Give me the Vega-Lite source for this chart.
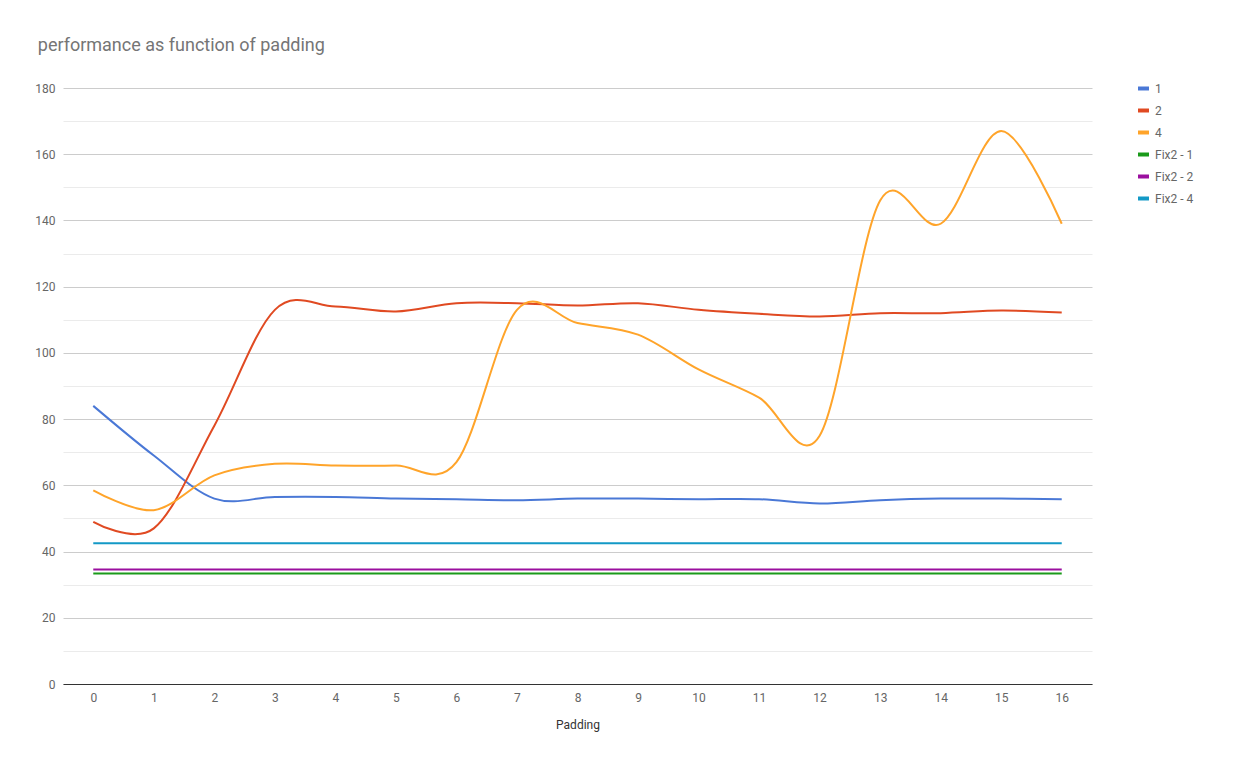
{
  "$schema": "https://vega.github.io/schema/vega-lite/v6.json",
  "autosize": "none",
  "width": 1029,
  "height": 596,
  "padding": {"left": 63, "top": 88, "right": 155, "bottom": 85},
  "background": "white",
  "title": {
    "text": "performance as function of padding",
    "anchor": "start",
    "dx": 3,
    "offset": 26,
    "fontSize": 18,
    "fontWeight": "normal",
    "font": "Roboto",
    "color": "#757575"
  },
  "data": {
    "values": [
      {"padding": 0, "series": "1", "value": 84}, {"padding": 1, "series": "1", "value": 69}, {"padding": 2, "series": "1", "value": 56}, {"padding": 3, "series": "1", "value": 56.5}, {"padding": 4, "series": "1", "value": 56.5}, {"padding": 5, "series": "1", "value": 56}, {"padding": 6, "series": "1", "value": 55.8}, {"padding": 7, "series": "1", "value": 55.5}, {"padding": 8, "series": "1", "value": 56}, {"padding": 9, "series": "1", "value": 56}, {"padding": 10, "series": "1", "value": 55.8}, {"padding": 11, "series": "1", "value": 55.8}, {"padding": 12, "series": "1", "value": 54.5}, {"padding": 13, "series": "1", "value": 55.5}, {"padding": 14, "series": "1", "value": 56}, {"padding": 15, "series": "1", "value": 56}, {"padding": 16, "series": "1", "value": 55.8},
      {"padding": 0, "series": "2", "value": 49}, {"padding": 1, "series": "2", "value": 47}, {"padding": 2, "series": "2", "value": 78}, {"padding": 3, "series": "2", "value": 113}, {"padding": 4, "series": "2", "value": 114}, {"padding": 5, "series": "2", "value": 112.5}, {"padding": 6, "series": "2", "value": 115}, {"padding": 7, "series": "2", "value": 115}, {"padding": 8, "series": "2", "value": 114.3}, {"padding": 9, "series": "2", "value": 115}, {"padding": 10, "series": "2", "value": 113}, {"padding": 11, "series": "2", "value": 111.8}, {"padding": 12, "series": "2", "value": 111}, {"padding": 13, "series": "2", "value": 112}, {"padding": 14, "series": "2", "value": 112}, {"padding": 15, "series": "2", "value": 112.8}, {"padding": 16, "series": "2", "value": 112.2},
      {"padding": 0, "series": "4", "value": 58.5}, {"padding": 1, "series": "4", "value": 52.5}, {"padding": 2, "series": "4", "value": 63}, {"padding": 3, "series": "4", "value": 66.5}, {"padding": 4, "series": "4", "value": 66}, {"padding": 5, "series": "4", "value": 66}, {"padding": 6, "series": "4", "value": 67}, {"padding": 7, "series": "4", "value": 113}, {"padding": 8, "series": "4", "value": 109}, {"padding": 9, "series": "4", "value": 105.5}, {"padding": 10, "series": "4", "value": 95}, {"padding": 11, "series": "4", "value": 86.5}, {"padding": 12, "series": "4", "value": 75}, {"padding": 13, "series": "4", "value": 146}, {"padding": 14, "series": "4", "value": 139}, {"padding": 15, "series": "4", "value": 167}, {"padding": 16, "series": "4", "value": 139},
      {"padding": 0, "series": "Fix2 - 1", "value": 33.4}, {"padding": 4, "series": "Fix2 - 1", "value": 33.4}, {"padding": 8, "series": "Fix2 - 1", "value": 33.4}, {"padding": 12, "series": "Fix2 - 1", "value": 33.4}, {"padding": 16, "series": "Fix2 - 1", "value": 33.4},
      {"padding": 0, "series": "Fix2 - 2", "value": 34.6}, {"padding": 4, "series": "Fix2 - 2", "value": 34.6}, {"padding": 8, "series": "Fix2 - 2", "value": 34.6}, {"padding": 12, "series": "Fix2 - 2", "value": 34.6}, {"padding": 16, "series": "Fix2 - 2", "value": 34.6},
      {"padding": 0, "series": "Fix2 - 4", "value": 42.5}, {"padding": 4, "series": "Fix2 - 4", "value": 42.5}, {"padding": 8, "series": "Fix2 - 4", "value": 42.5}, {"padding": 12, "series": "Fix2 - 4", "value": 42.5}, {"padding": 16, "series": "Fix2 - 4", "value": 42.5}
    ]
  },
  "mark": {"type": "line", "interpolate": "cardinal", "strokeWidth": 2},
  "encoding": {
    "x": {
      "field": "padding",
      "type": "ordinal",
      "sort": "ascending",
      "scale": {"type": "point", "padding": 0.5, "domain": [0,1,2,3,4,5,6,7,8,9,10,11,12,13,14,15,16]},
      "axis": {"title": "Padding", "labelAngle": 0, "ticks": false, "domainColor": "#333", "grid": false, "labelPadding": 8, "titlePadding": 16}
    },
    "y": {
      "field": "value",
      "type": "quantitative",
      "scale": {"domain": [0, 180], "nice": false},
      "axis": {
        "title": null,
        "values": [0,10,20,30,40,50,60,70,80,90,100,110,120,130,140,150,160,170,180],
        "labelExpr": "datum.value % 20 === 0 ? datum.label : ''",
        "domain": false,
        "ticks": false,
        "labelPadding": 8,
        "gridColor": {"condition": {"test": "datum.value % 20 === 0", "value": "#cccccc"}, "value": "#ebebeb"}
      }
    },
    "color": {
      "field": "series",
      "type": "nominal",
      "scale": {
        "domain": ["1", "2", "4", "Fix2 - 1", "Fix2 - 2", "Fix2 - 4"],
        "range": ["#4a78d6", "#e04a22", "#ffa42a", "#1a9a1a", "#9b0f9f", "#1399c6"]
      },
      "legend": {
        "title": null,
        "orient": "none",
        "legendX": 1073,
        "legendY": -7,
        "symbolType": "stroke",
        "symbolStrokeWidth": 4,
        "symbolSize": 120,
        "rowPadding": 5,
        "labelFontSize": 12
      }
    }
  },
  "config": {
    "font": "Roboto",
    "view": {"stroke": null},
    "axis": {"labelColor": "#666", "labelFontSize": 12, "titleColor": "#333", "titleFontSize": 12, "titleFontWeight": "normal"},
    "legend": {"labelColor": "#666", "labelFont": "Roboto"}
  }
}
